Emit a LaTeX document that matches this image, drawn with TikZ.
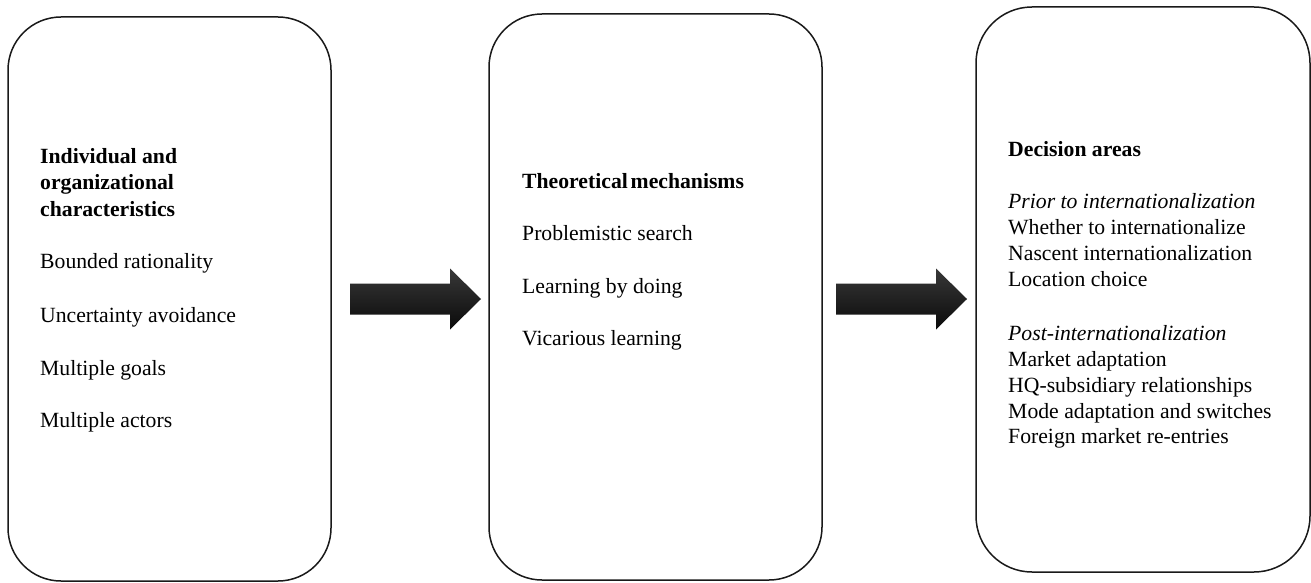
\documentclass[tikz,border=0pt]{standalone}
\usepackage{fontspec}
\setmainfont{Liberation Serif}
\begin{document}
\begin{tikzpicture}[x=1pt,y=-1pt,
  panel/.style={draw=black!90,line width=1.5pt,rounded corners=53pt,fill=white,inner sep=0pt},
  txt/.style={anchor=base west,inner sep=0pt,font=\fontsize{21.7}{26}\selectfont},
  hd/.style={txt,font=\fontsize{21.7}{26}\selectfont\bfseries},
  it/.style={txt,font=\fontsize{21.7}{26}\selectfont\itshape},
  blockarrow/.style={top color=black!78,middle color=black,bottom color=black!96,draw=none}]
\useasboundingbox (0,0) rectangle (1311,583);
% panels
\node[panel,minimum width=323pt,minimum height=564pt] (p1) at (169.5,299) {};
\node[panel,minimum width=333pt,minimum height=566pt] (p2) at (655.5,297) {};
\node[panel,minimum width=334pt,minimum height=565pt,rounded corners=56pt] (p3) at (1143,289.5) {};
% panel 1 text
\node[hd] (h1a) at (40,163) {Individual and};
\node[hd] (h1b) at (40,189) {organizational};
\node[hd] (h1c) at (40,216) {characteristics};
\node[txt] (a1) at (40,268) {Bounded rationality};
\node[txt] (a2) at (40,322) {Uncertainty avoidance};
\node[txt] (a3) at (40,375) {Multiple goals};
\node[txt] (a4) at (40,427) {Multiple actors};
% panel 2 text
\node[hd] (h2) at (522,188) {Theoretical\hspace{-0.12em} mechanisms};
\node[txt] (b1) at (522,240) {Problemistic search};
\node[txt] (b2) at (522,293) {Learning by doing};
\node[txt] (b3) at (522,345) {Vicarious learning};
% panel 3 text
\node[hd] (h3) at (1008,156) {Decision areas};
\node[it] (c0) at (1008,208) {Prior to internationalization};
\node[txt] (c1) at (1008,234) {Whether to internationalize};
\node[txt] (c2) at (1008,260) {Nascent internationalization};
\node[txt] (c3) at (1008,286) {Location choice};
\node[it] (d0) at (1008,340) {Post-internationalization};
\node[txt] (d1) at (1008,366) {Market adaptation};
\node[txt] (d2) at (1008,392) {HQ-subsidiary relationships};
\node[txt] (d3) at (1008,418) {Mode adaptation and switches};
\node[txt] (d4) at (1008,443) {Foreign market re-entries};
% block arrows between panels
\coordinate (s1) at (350,283.5);
\coordinate (s2) at (836,283.5);
\path[blockarrow] (s1) -- ++(100,0) -- ++(0,-15) -- ++(31,30.5) -- ++(-31,30.5) -- ++(0,-15) -- ++(-100,0) -- cycle;
\path[blockarrow] (s2) -- ++(100,0) -- ++(0,-15) -- ++(31,30.5) -- ++(-31,30.5) -- ++(0,-15) -- ++(-100,0) -- cycle;
\end{tikzpicture}
\end{document}
